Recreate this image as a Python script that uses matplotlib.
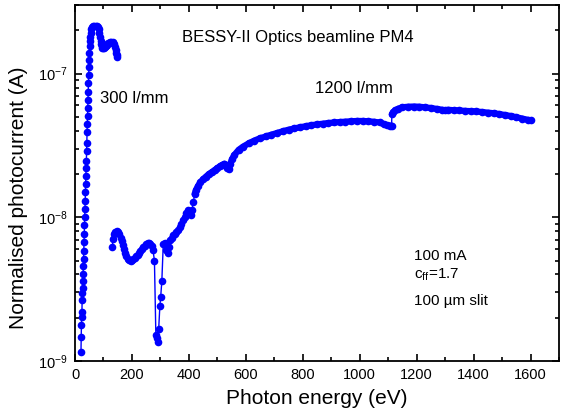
"""
Normalised photocurrent of BESSY-II optics beamline PM4 (300 and 1200 l/mm gratings)
"""

import numpy as np
import matplotlib
matplotlib.use("Agg")
import matplotlib.pyplot as plt
from matplotlib.ticker import MultipleLocator, LogLocator

plt.rcParams['font.family'] = ['Liberation Sans', 'DejaVu Sans']
plt.rcParams['mathtext.fontset'] = 'custom'
plt.rcParams['mathtext.rm'] = 'Liberation Sans'
plt.rcParams['mathtext.it'] = 'Liberation Sans:italic'

# 300 l/mm grating
energy_300 = [21.0, 21.8, 22.6, 23.5, 24.3, 25.1, 25.9, 26.7, 27.6, 28.4,
              29.2, 30.0, 30.8, 31.7, 32.5, 33.3, 34.1, 34.9, 35.8, 36.6,
              37.4, 38.2, 39.0, 39.9, 40.7, 41.5, 42.3, 43.1, 44.0, 44.8,
              45.6, 46.4, 47.2, 48.1, 48.9, 49.8, 50.6, 51.5, 52.5, 53.5,
              55, 57, 60, 64, 68, 72, 76, 80, 83, 86,
              88, 90, 92, 94, 96, 99, 102, 105, 108, 111,
              114, 117, 120, 124, 128, 132, 135, 138, 141, 143,
              145, 146, 147]
current_300 = [1.16e-9, 1.48e-9, 1.79e-9, 2.03e-9, 2.2e-9, 2.65e-9, 2.96e-9, 3.2e-9, 3.6e-9, 4.05e-9,
               4.55e-9, 5.15e-9, 5.85e-9, 6.7e-9, 7.7e-9, 8.8e-9, 1.0e-8, 1.15e-8, 1.3e-8, 1.5e-8,
               1.7e-8, 1.95e-8, 2.2e-8, 2.45e-8, 2.9e-8, 3.3e-8, 3.9e-8, 4.45e-8, 5.1e-8, 5.8e-8,
               6.6e-8, 7.5e-8, 8.6e-8, 9.8e-8, 1.12e-7, 1.25e-7, 1.4e-7, 1.55e-7, 1.68e-7, 1.8e-7,
               1.92e-7, 2.03e-7, 2.1e-7, 2.14e-7, 2.15e-7, 2.15e-7, 2.14e-7, 2.1e-7, 2.04e-7, 1.92e-7,
               1.8e-7, 1.68e-7, 1.6e-7, 1.55e-7, 1.51e-7, 1.5e-7, 1.51e-7, 1.53e-7, 1.55e-7, 1.58e-7,
               1.6e-7, 1.62e-7, 1.64e-7, 1.65e-7, 1.66e-7, 1.66e-7, 1.64e-7, 1.6e-7, 1.54e-7, 1.47e-7,
               1.4e-7, 1.34e-7, 1.3e-7]

# 1200 l/mm grating
energy_1200 = [131, 134, 138, 142, 147, 152, 156, 160, 164, 168,
               172, 176, 180, 185, 190, 195, 200, 205, 210, 215,
               220, 225, 230, 235, 240, 245, 250, 255, 260, 265,
               270, 274, 279, 284, 287, 290, 294, 298, 301, 305,
               310, 315, 319, 324, 327, 331, 335, 339, 344, 350,
               356, 362, 368, 374, 380, 385, 391, 397, 402, 406,
               411, 416, 420, 425, 432, 440, 450, 460, 470, 480,
               490, 500, 510, 518, 525, 530, 535, 540, 545, 552,
               560, 575, 590, 610, 630, 650, 670, 690, 710, 730,
               750, 770, 790, 810, 830, 850, 870, 890, 910, 930,
               950, 970, 990, 1010, 1030, 1050, 1070, 1085, 1095, 1105,
               1112, 1113, 1118, 1125, 1135, 1150, 1170, 1190, 1210, 1230,
               1250, 1270, 1290, 1300, 1310, 1330, 1350, 1370, 1390, 1410,
               1430, 1450, 1470, 1490, 1510, 1530, 1550, 1570, 1590, 1600]
current_1200 = [6.2e-9, 7.1e-9, 7.6e-9, 7.9e-9, 8.0e-9, 7.9e-9, 7.6e-9, 7.2e-9, 6.8e-9, 6.4e-9,
                6.0e-9, 5.6e-9, 5.35e-9, 5.15e-9, 5.05e-9, 5.0e-9, 5.05e-9, 5.15e-9, 5.25e-9, 5.35e-9,
                5.5e-9, 5.65e-9, 5.85e-9, 6.0e-9, 6.2e-9, 6.35e-9, 6.5e-9, 6.6e-9, 6.6e-9, 6.55e-9,
                6.3e-9, 5.9e-9, 5.0e-9, 1.52e-9, 1.45e-9, 1.35e-9, 1.68e-9, 2.4e-9, 2.8e-9, 3.6e-9,
                6.5e-9, 6.6e-9, 5.9e-9, 6.0e-9, 5.6e-9, 6.2e-9, 6.9e-9, 7.2e-9, 7.5e-9, 7.7e-9,
                7.9e-9, 8.1e-9, 8.5e-9, 9.0e-9, 9.6e-9, 1.0e-8, 1.07e-8, 1.12e-8, 1.08e-8, 1.03e-8,
                1.13e-8, 1.28e-8, 1.45e-8, 1.55e-8, 1.65e-8, 1.75e-8, 1.84e-8, 1.92e-8, 2.0e-8, 2.06e-8,
                2.13e-8, 2.2e-8, 2.27e-8, 2.32e-8, 2.36e-8, 2.3e-8, 2.22e-8, 2.18e-8, 2.35e-8, 2.55e-8,
                2.72e-8, 2.95e-8, 3.1e-8, 3.27e-8, 3.42e-8, 3.55e-8, 3.65e-8, 3.76e-8, 3.86e-8, 3.97e-8,
                4.07e-8, 4.15e-8, 4.23e-8, 4.3e-8, 4.37e-8, 4.43e-8, 4.48e-8, 4.53e-8, 4.57e-8, 4.6e-8,
                4.63e-8, 4.66e-8, 4.68e-8, 4.68e-8, 4.66e-8, 4.62e-8, 4.57e-8, 4.45e-8, 4.38e-8, 4.35e-8,
                4.35e-8, 5.2e-8, 5.4e-8, 5.55e-8, 5.7e-8, 5.83e-8, 5.88e-8, 5.9e-8, 5.88e-8, 5.82e-8,
                5.76e-8, 5.68e-8, 5.6e-8, 5.55e-8, 5.6e-8, 5.56e-8, 5.54e-8, 5.5e-8, 5.48e-8, 5.45e-8,
                5.4e-8, 5.35e-8, 5.3e-8, 5.23e-8, 5.15e-8, 5.07e-8, 4.97e-8, 4.87e-8, 4.77e-8, 4.72e-8]

fig = plt.figure(figsize=(5.61, 4.2), dpi=100)
ax = fig.add_axes([0.1337, 0.1405, 0.8627, 0.8475])

for e, c in [(energy_300, current_300), (energy_1200, current_1200)]:
    ax.plot(e, c, '-', color='blue', linewidth=1.0, marker='o',
            markersize=5.5, markeredgewidth=0, markerfacecolor='blue')

# densely sampled part of the 1200 l/mm scan looks like a solid band
dense = energy_1200.index(420)
jump = energy_1200.index(1113)
ax.plot(energy_1200[dense:jump], current_1200[dense:jump], color='blue',
        linewidth=4.5, solid_capstyle='round', solid_joinstyle='round')
ax.plot(energy_1200[jump:], current_1200[jump:], color='blue',
        linewidth=4.5, solid_capstyle='round', solid_joinstyle='round')

ax.set_yscale('log')
ax.set_xlim(0, 1700)
ax.set_ylim(1e-9, 3e-7)
ax.xaxis.set_major_locator(MultipleLocator(200))
ax.xaxis.set_minor_locator(MultipleLocator(100))
ax.yaxis.set_major_locator(LogLocator(base=10))
ax.yaxis.set_minor_locator(LogLocator(base=10, subs=np.arange(2, 10)))

ax.tick_params(which='both', direction='in', top=True, right=True, labelsize=10.5, width=1.2)
ax.tick_params(which='major', length=5, pad=5)
ax.tick_params(which='minor', length=3)
for s in ax.spines.values():
    s.set_linewidth(1.3)

ax.set_xlabel('Photon energy (eV)', fontsize=15, labelpad=5)
ax.set_ylabel('Normalised photocurrent (A)', fontsize=15)
ax.yaxis.set_label_coords(-0.098, 0.46)

ax.text(375, 1.78e-7, 'BESSY-II Optics beamline PM4', fontsize=12, va='center')
ax.text(88, 6.7e-8, '300 l/mm', fontsize=12, va='center')
ax.text(843, 7.87e-8, '1200 l/mm', fontsize=12, va='center')
ax.text(1191, 5.36e-9, '100 mA', fontsize=11, va='center')
ax.text(1191, 3.95e-9, r'c$_{\mathrm{ff}}$=1.7', fontsize=11, va='center')
ax.text(1191, 2.61e-9, '100 \u00b5m slit', fontsize=11, va='center')

fig.savefig('out.png', dpi=100)
